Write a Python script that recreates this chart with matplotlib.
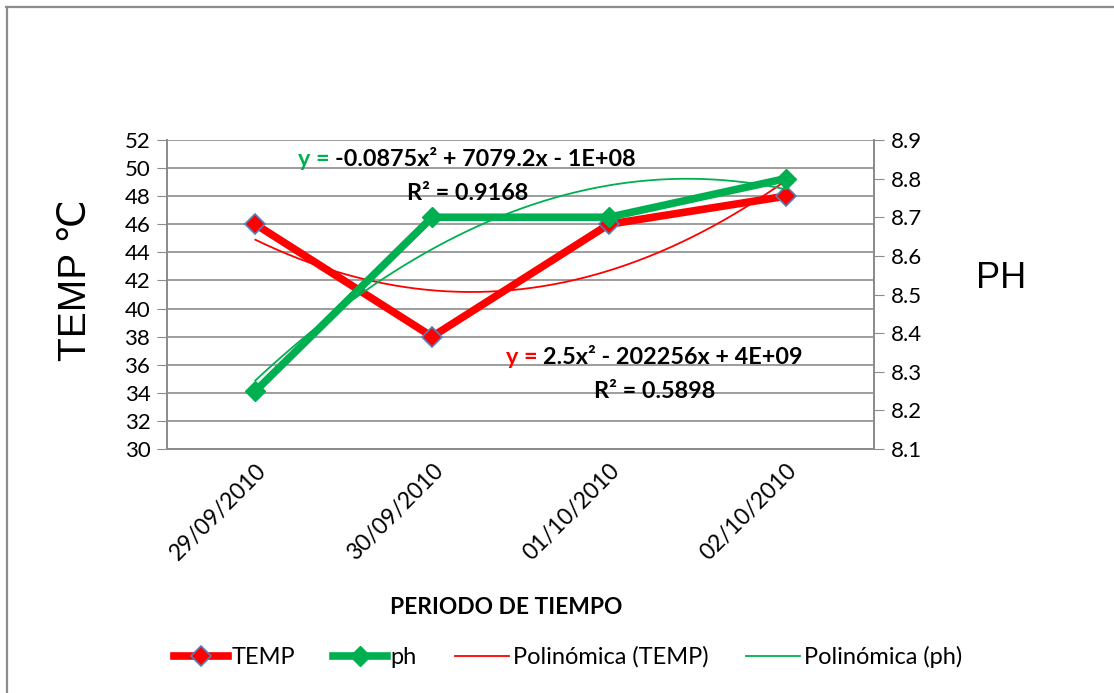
#!/usr/bin/env python3
"""
Plot TEMP and pH readings over four days with 2nd order trendlines.
"""

import numpy as np
import matplotlib
matplotlib.use("Agg")
import matplotlib.pyplot as plt
from matplotlib.lines import Line2D
from matplotlib.offsetbox import TextArea, HPacker, AnnotationBbox

# data
dates = ["29/09/2010", "30/09/2010", "01/10/2010", "02/10/2010"]
temp = [46, 38, 46, 48]
ph = [8.25, 8.7, 8.7, 8.8]

temp_eq = "2.5x² - 202256x + 4E+09"
temp_r2 = "R² = 0.5898"
ph_eq = "-0.0875x² + 7079.2x - 1E+08"
ph_r2 = "R² = 0.9168"

RED = "#FF0000"
GREEN = "#00B050"
GRID = "#8C8C8C"
W, H = 1114, 693
FONT = "Lato"
ARIAL = ["Liberation Sans", "DejaVu Sans", "Noto Sans CJK SC"]


def fx(px):
    return px / W


def fy(py):
    return 1 - py / H


def trend(values):
    x = np.arange(len(values))
    coef = np.polyfit(x, values, 2)
    xs = np.linspace(0, len(values) - 1, 200)
    return xs, np.polyval(coef, xs)


def eq_label(fig, cx, cy, color, rest, size=16.8):
    parts = [
        TextArea("y = ", textprops=dict(color=color, fontsize=size,
                                        fontweight="bold", family=FONT)),
        TextArea(rest, textprops=dict(color="black", fontsize=size,
                                      fontweight="bold", family=FONT)),
    ]
    box = HPacker(children=parts, pad=0, sep=0, align="baseline")
    ab = AnnotationBbox(box, (fx(cx), fy(cy)), xycoords="figure fraction",
                        frameon=False, box_alignment=(0.5, 0.5), pad=0,
                        zorder=20)
    fig.add_artist(ab)


def main():
    fig = plt.figure(figsize=(W / 100, H / 100), dpi=100)
    ax = fig.add_axes([fx(167), fy(449), fx(874) - fx(167), fy(140) - fy(449)])
    ax2 = ax.twinx()

    x = np.arange(len(dates))

    ax.set_xlim(-0.5, len(dates) - 0.5)
    ax.set_ylim(30, 52)
    ax.set_yticks(np.arange(30, 53, 2))
    ax2.set_ylim(8.1, 8.9)
    ax2.set_yticks(np.arange(8.1, 8.95, 0.1))
    ax2.set_yticklabels([f"{v:.1f}" for v in np.arange(8.1, 8.95, 0.1)])

    ax.yaxis.grid(True, color=GRID, linewidth=1.2)
    ax.set_axisbelow(True)

    # series
    l_temp, = ax.plot(x, temp, color=RED, linewidth=5.5, marker="D",
                      markersize=10, markerfacecolor=RED,
                      markeredgecolor="#4F81BD", markeredgewidth=1.2,
                      label="TEMP", zorder=3)
    l_ph, = ax2.plot(x, ph, color=GREEN, linewidth=5.5, marker="D",
                     markersize=10, markerfacecolor=GREEN,
                     markeredgecolor=GREEN, label="ph", zorder=3)

    xs, ys = trend(temp)
    t_temp, = ax.plot(xs, ys, color=RED, linewidth=1.3,
                      label="Polinómica (TEMP)", zorder=4)
    xs, ys = trend(ph)
    t_ph, = ax2.plot(xs, ys, color=GREEN, linewidth=1.3,
                     label="Polinómica (ph)", zorder=4)

    # axes styling
    for a in (ax, ax2):
        a.spines["top"].set_visible(False)
        for side in ("left", "right", "bottom"):
            a.spines[side].set_color(GRID)
            a.spines[side].set_linewidth(1.3)
    ax.tick_params(axis="y", direction="out", length=7, color=GRID,
                   labelsize=16, pad=5)
    ax2.tick_params(axis="y", direction="out", length=7, color=GRID,
                    labelsize=16, pad=5)
    ax.tick_params(axis="x", length=0, labelsize=16.5, pad=8)
    for lab in ax.get_yticklabels() + ax2.get_yticklabels():
        lab.set_family(FONT)

    ax.set_xticks(x)
    ax.set_xticklabels(dates, rotation=45, ha="right", va="top",
                       rotation_mode="anchor", family=FONT)

    # labels
    fig.text(fx(506), fy(608), "PERIODO DE TIEMPO", ha="center", va="center",
             fontsize=16.4, fontweight="bold", family=FONT)
    fig.text(fx(76), fy(280), "TEMP ℃", ha="center", va="center",
             rotation=90, fontsize=28, family=ARIAL)
    fig.text(fx(1001), fy(279), "PH", ha="center", va="center",
             fontsize=26, family=ARIAL)

    # trendline equations
    eq_label(fig, 467, 160, GREEN, ph_eq)
    fig.text(fx(468), fy(193), ph_r2, ha="center", va="center", fontsize=16.8,
             fontweight="bold", family=FONT, zorder=20)
    eq_label(fig, 654, 358, RED, temp_eq)
    fig.text(fx(655), fy(392), temp_r2, ha="center", va="center", fontsize=16.8,
             fontweight="bold", family=FONT, zorder=20)

    # legend
    fig.legend(handles=[l_temp, l_ph, t_temp, t_ph], ncol=4,
               loc="center", bbox_to_anchor=(fx(568), fy(657)),
               frameon=False, prop=dict(family=FONT, size=17),
               handlelength=2.3, handletextpad=0.15, columnspacing=1.6)

    # outer chart border (only top/left visible)
    fig.add_artist(Line2D([fx(6), 1], [fy(7), fy(7)], color="#8C8C8C",
                          linewidth=1.6, transform=fig.transFigure))
    fig.add_artist(Line2D([fx(7), fx(7)], [0, fy(7)], color="#8C8C8C",
                          linewidth=1.6, transform=fig.transFigure))

    fig.savefig("out.png", dpi=100)
    plt.close(fig)


if __name__ == "__main__":
    main()
